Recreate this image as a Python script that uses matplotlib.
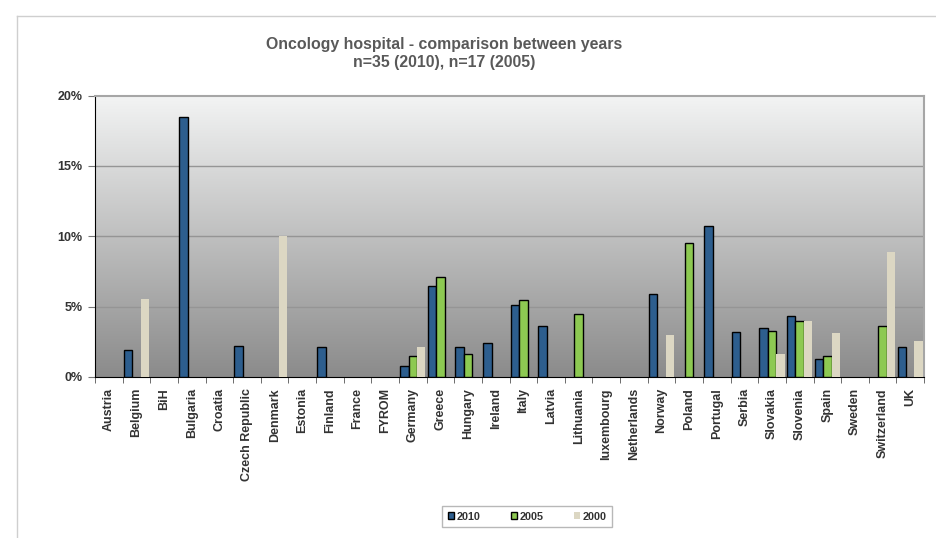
import numpy as np
import matplotlib
matplotlib.use("Agg")
import matplotlib.pyplot as plt
from matplotlib.lines import Line2D
from matplotlib.patches import Patch

plt.rcParams['font.family'] = ['Liberation Sans', 'DejaVu Sans']

countries = ["Austria", "Belgium", "BiH", "Bulgaria", "Croatia", "Czech Republic",
             "Denmark", "Estonia", "Finland", "France", "FYROM", "Germany", "Greece",
             "Hungary", "Ireland", "Italy", "Latvia", "Lithuania", "luxembourg",
             "Netherlands", "Norway", "Poland", "Portugal", "Serbia", "Slovakia",
             "Slovenia", "Spain", "Sweden", "Switzerland", "UK"]

nan = np.nan
y2010 = [nan, 1.9, nan, 18.5, nan, 2.2, nan, nan, 2.1, nan, nan, 0.8, 6.5,
         2.1, 2.4, 5.1, 3.6, nan, nan, nan, 5.9, nan, 10.7, 3.2, 3.45,
         4.35, 1.25, nan, nan, 2.1]
y2005 = [nan, nan, nan, nan, nan, nan, nan, nan, nan, nan, nan, 1.5, 7.1,
         1.6, nan, 5.5, nan, 4.5, nan, nan, nan, 9.5, nan, nan, 3.3,
         4.0, 1.5, nan, 3.6, nan]
y2000 = [nan, 5.55, nan, nan, nan, nan, 10.0, nan, nan, nan, nan, 2.15, nan,
         nan, nan, nan, nan, nan, nan, nan, 3.0, nan, nan, nan, 1.65,
         4.0, 3.1, nan, 8.85, 2.55]

yticks = [0, 5, 10, 15, 20]

c2010 = "#2d5e8e"
c2005 = "#8dc952"
c2000 = "#dcd7c3"

fig = plt.figure(figsize=(9.37, 5.38), dpi=100)
ax = fig.add_axes([0.1014, 0.2993, 0.8848, 0.5229])

x = np.arange(len(countries))
w = 0.305

# gradient background
grad = np.linspace(0, 1, 256).reshape(-1, 1)
top = np.array([0.953, 0.957, 0.957])
bot = np.array([0.545, 0.545, 0.545])
img = top * (1 - grad[..., None]) + bot * grad[..., None]
ax.imshow(img, extent=[-0.5, len(countries) - 0.5, 0, 20], aspect='auto',
          zorder=0, origin='upper')

for v in yticks[1:-1]:
    ax.axhline(v, color="#959595", lw=1, zorder=1)

ax.bar(x - w, y2010, w, color=c2010, edgecolor="black", lw=1, zorder=3)
ax.bar(x, y2005, w, color=c2005, edgecolor="black", lw=1, zorder=3)
ax.bar(x + w, y2000, w, color=c2000, edgecolor="none", zorder=3)

ax.set_xlim(-0.5, len(countries) - 0.5)
ax.set_ylim(0, 20)
ax.set_yticks(yticks)
ax.set_yticklabels([f"{v}%" for v in yticks], fontsize=9, fontweight='bold', color="#333333")
ax.set_xticks(x)
ax.set_xticklabels(countries, rotation=90, fontsize=9, fontweight='bold', color="#333333")
ax.set_xticks(np.arange(len(countries) + 1) - 0.5, minor=True)
ax.tick_params(axis='x', which='major', length=0, pad=8)
ax.tick_params(axis='x', which='minor', length=4, color="#555555")
ax.tick_params(axis='y', length=5, color="#777777", pad=4)

for s in ['top', 'right']:
    ax.spines[s].set_color("#a6a6a6")
    ax.spines[s].set_linewidth(1.5)
ax.spines['left'].set_color("black")
ax.spines['bottom'].set_color("black")

fig.text(0.474, 0.918, "Oncology hospital - comparison between years",
         ha='center', va='center', fontsize=11.4, fontweight='bold', color="#595959")
fig.text(0.474, 0.883, "n=35 (2010), n=17 (2005)",
         ha='center', va='center', fontsize=11.4, fontweight='bold', color="#595959")

handles = [Patch(facecolor=c2010, edgecolor="black", lw=1),
           Patch(facecolor=c2005, edgecolor="black", lw=1),
           Patch(facecolor=c2000, edgecolor="none")]
leg = fig.legend(handles, ["2010", "2005", "2000"], ncol=3,
                 loc='center', bbox_to_anchor=(0.5624, 1 - 516.5 / 538),
                 prop={'size': 7.8, 'weight': 'bold'}, frameon=True,
                 fancybox=False, handlelength=0.6, handleheight=0.6,
                 handletextpad=0.2, columnspacing=2.8, borderpad=0.5,
                 borderaxespad=0)
leg.get_frame().set_edgecolor("#a6a6a6")
leg.get_frame().set_linewidth(1)
leg._legend_box.align = "center"
for t in leg.get_texts():
    t.set_color("#333333")

# outer chart border
fig.add_artist(Line2D([17 / 937, 1], [1 - 16 / 538, 1 - 16 / 538],
                      color="#cfcfcf", lw=1, transform=fig.transFigure))
fig.add_artist(Line2D([17 / 937, 17 / 937], [0, 1 - 16 / 538],
                      color="#cfcfcf", lw=1, transform=fig.transFigure))

fig.savefig("out.png", dpi=100)
